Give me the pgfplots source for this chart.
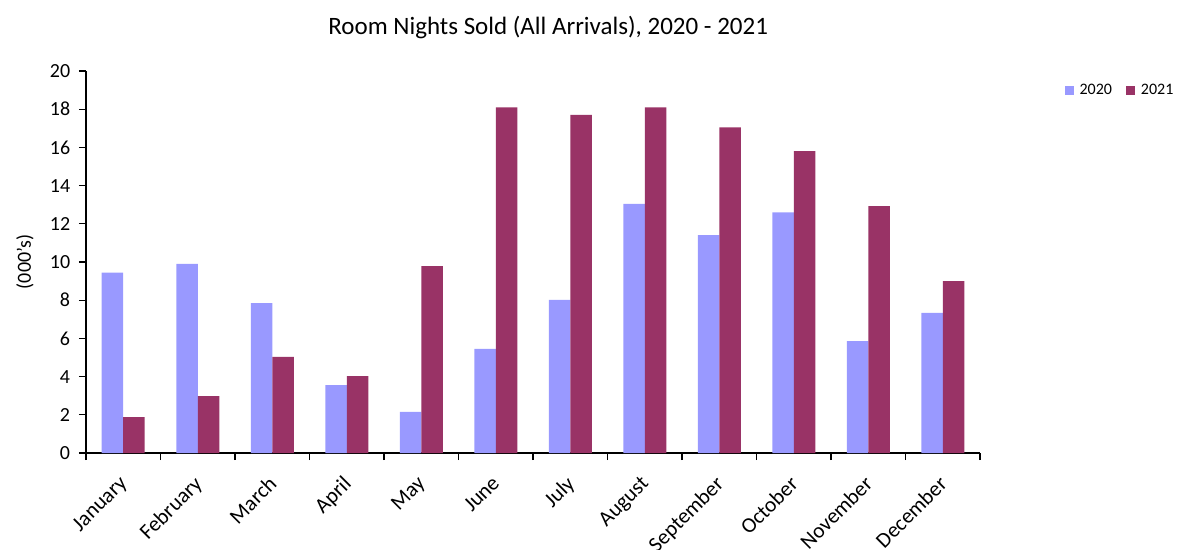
\documentclass[border=0pt]{standalone}
\usepackage{pgfplots}
\pgfplotsset{compat=1.18}
\usepackage{fontspec}
\setmainfont{Carlito}
\definecolor{c2020}{HTML}{9999FF}
\definecolor{c2021}{HTML}{993366}
\begin{document}
\fontsize{20bp}{24bp}\selectfont
\begin{tikzpicture}
\useasboundingbox (-86bp,-97bp) rectangle (1091bp,453bp);
\begin{axis}[
  scale only axis,
  width=894bp, height=382bp,
  at={(0,0)}, anchor=south west,
  ybar=0pt, bar width=21.5bp,
  xmin=-0.5, xmax=11.5,
  ymin=0, ymax=20,
  ytick={0,2,...,20},
  xtick={0,...,11},
  xticklabels={January,February,March,April,May,June,July,August,September,October,November,December},
  minor xtick={-0.5,0.5,...,11.5},
  major x tick style={draw=none},
  minor x tick style={black, line width=1.3bp},
  y tick style={black, line width=1.3bp},
  tick align=outside,
  major tick length=7bp, minor tick length=7bp,
  axis lines*=left,
  axis line style={line width=2bp, black},
  every tick label/.append style={font=\fontsize{20bp}{24bp}\selectfont},
  /pgf/number format/assume math mode=true,
  yticklabel style={xshift=-2bp},
  x tick label style={xshift=-5bp, yshift=-13bp, rotate=45, anchor=north east, inner sep=1bp, font=\fontsize{21.5bp}{25bp}\selectfont},
  ylabel={(000's)},
  ylabel style={font=\fontsize{20bp}{24bp}\selectfont},
  every axis y label/.style={at={(axis description cs:0,0.5)}, rotate=90, anchor=center, yshift=61bp},
  legend columns=2,
  legend style={draw=none, at={(axis description cs:1.091,0.948)}, anchor=west, font=\fontsize{16bp}{19bp}\selectfont, /tikz/every even column/.append style={column sep=12bp}, /tikz/every odd column/.append style={column sep=4bp}},
  legend image code/.code={\fill[#1] (0bp,-4.5bp) rectangle (9bp,4.5bp);},
  clip=false,
]
\addplot[fill=c2020, draw=none] coordinates {(0,9.45) (1,9.9) (2,7.85) (3,3.56) (4,2.15) (5,5.45) (6,8.02) (7,13.04) (8,11.41) (9,12.6) (10,5.86) (11,7.33)};
\addplot[fill=c2021, draw=none] coordinates {(0,1.88) (1,2.98) (2,5.03) (3,4.03) (4,9.79) (5,18.1) (6,17.7) (7,18.1) (8,17.05) (9,15.8) (10,12.93) (11,9.0)};
\legend{2020,2021}
\node at (axis description cs:0.517,1) [yshift=43bp, font=\fontsize{25bp}{29bp}\selectfont] {Room Nights Sold (All Arrivals), 2020 - 2021};
\end{axis}
\end{tikzpicture}
\end{document}
